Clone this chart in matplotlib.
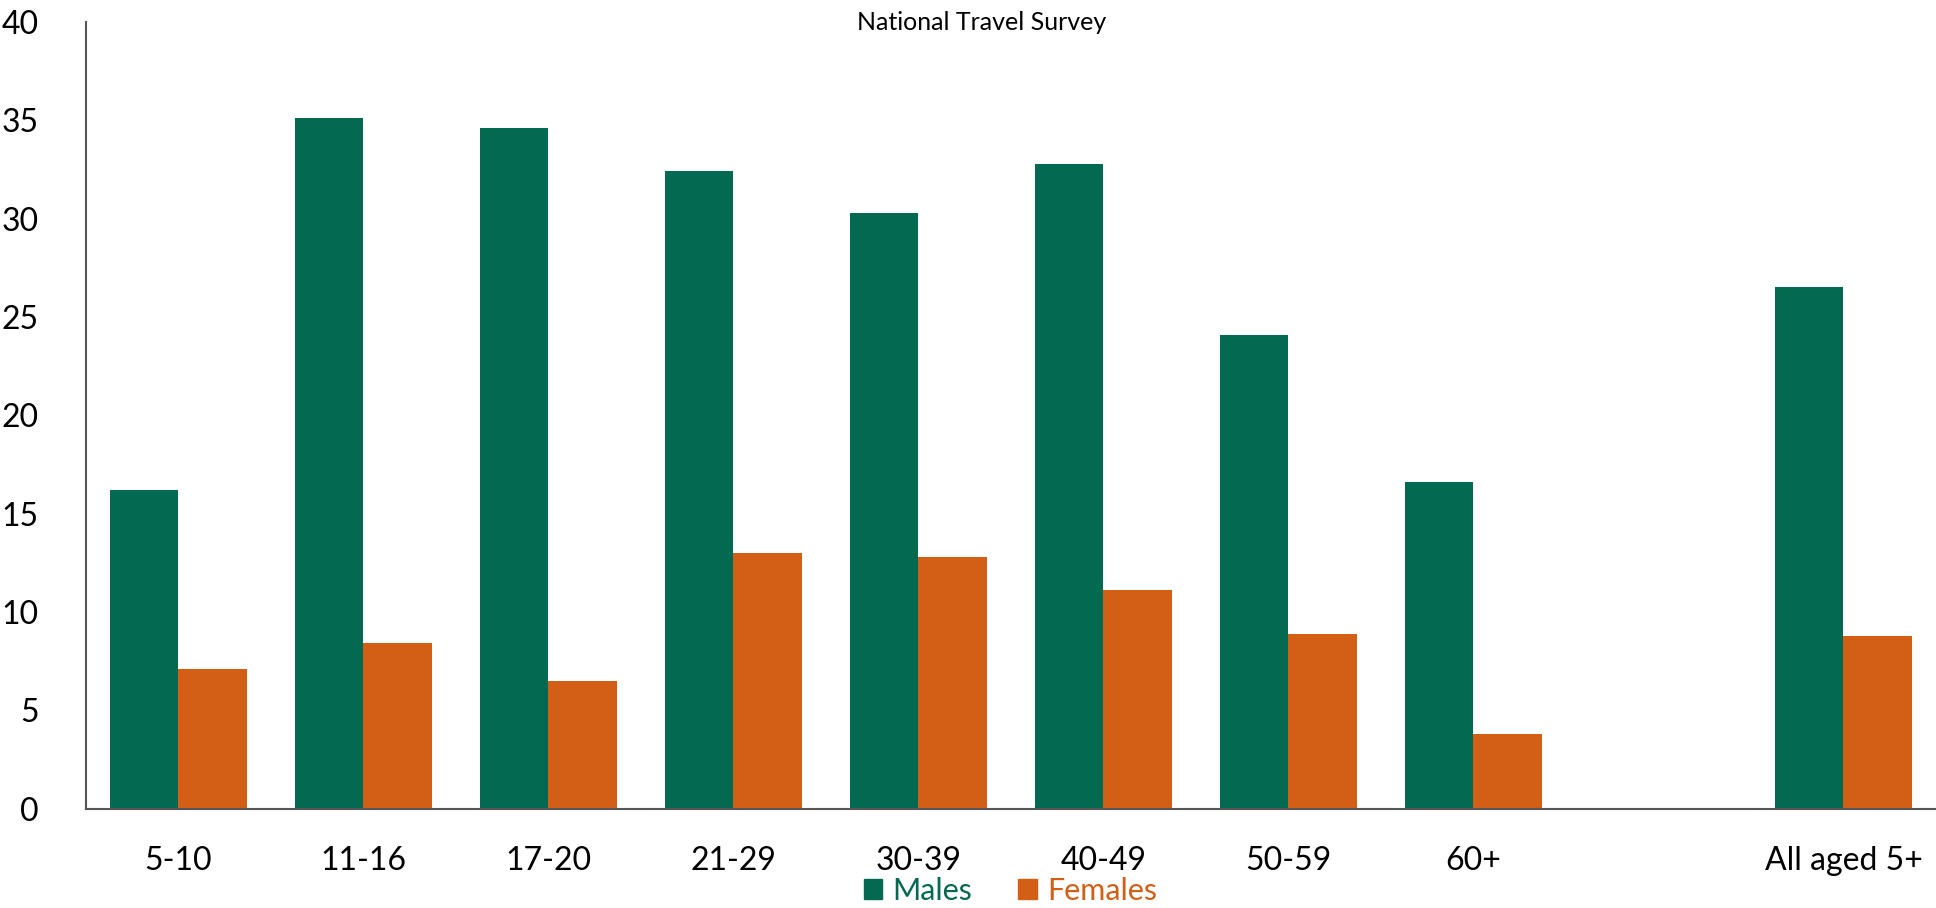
import numpy as np
import matplotlib.pyplot as plt
from matplotlib.patches import Patch

plt.rcParams['font.family'] = ['Lato', 'DejaVu Sans']

age_groups = ["5-10", "11-16", "17-20", "21-29", "30-39", "40-49", "50-59", "60+", "All aged 5+"]
males = [16.2, 35.1, 34.6, 32.4, 30.3, 32.8, 24.1, 16.6, 26.5]
females = [7.1, 8.4, 6.5, 13.0, 12.8, 11.1, 8.9, 3.8, 8.8]

green = "#036951"
orange = "#d35f17"

# leave an empty slot before the "all ages" group
x = np.r_[np.arange(len(age_groups) - 1), len(age_groups)]
w = 0.37

fig = plt.figure(figsize=(19.36, 9.08), dpi=100)
ax = fig.add_axes([0.0444, 0.1094, 0.9556, 0.8664])

ax.bar(x - w / 2, males, w, color=green, label="Males")
ax.bar(x + w / 2, females, w, color=orange, label="Females")

ax.set_xlim(-0.5, 9.5)
ax.set_ylim(0, 40)
ax.set_yticks(np.arange(0, 41, 5))
ax.set_xticks(x)
ax.set_xticklabels(age_groups)

ax.tick_params(axis='both', length=0, labelsize=23, colors='black')
ax.tick_params(axis='y', pad=34)
ax.tick_params(axis='x', pad=27)

for side in ['top', 'right']:
    ax.spines[side].set_visible(False)
for side in ['left', 'bottom']:
    ax.spines[side].set_color('#555555')
    ax.spines[side].set_linewidth(1.5)

fig.text(0.507, 0.975, "National Travel Survey", ha='center', va='center', fontsize=18)

handles = [Patch(color=green), Patch(color=orange)]
leg = fig.legend(handles, ["Males", "Females"], loc='center', bbox_to_anchor=(0.522, 0.019),
                 ncol=2, frameon=False, fontsize=22, handlelength=0.6, handleheight=0.6,
                 handletextpad=0.35, columnspacing=1.5, borderpad=0)
for txt, c in zip(leg.get_texts(), [green, orange]):
    txt.set_color(c)

plt.savefig("out.png", dpi=100)
